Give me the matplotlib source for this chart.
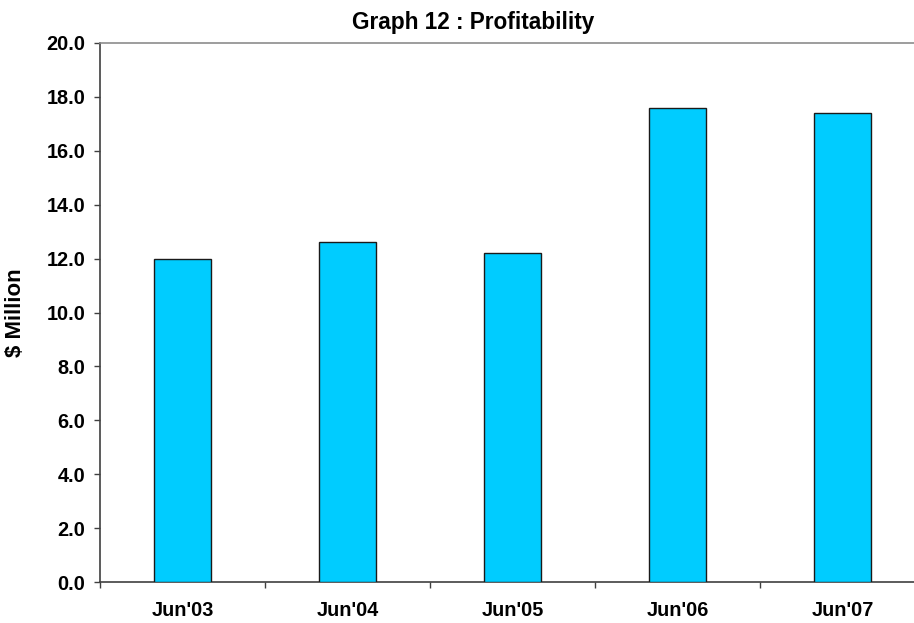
import matplotlib
matplotlib.use("Agg")
import matplotlib.pyplot as plt
import numpy as np

# Profit by financial year ($ million)
categories = ["Jun'03", "Jun'04", "Jun'05", "Jun'06", "Jun'07"]
profit = [12.0, 12.6, 12.2, 17.6, 17.4]
yticks = [0.0, 2.0, 4.0, 6.0, 8.0, 10.0, 12.0, 14.0, 16.0, 18.0, 20.0]

plt.rcParams["font.family"] = ["Liberation Sans", "DejaVu Sans"]
plt.rcParams["font.weight"] = "bold"

W, H = 914, 623
fig = plt.figure(figsize=(W / 100, H / 100), dpi=100)
# plot area: x 100..925 px (category axis runs past the right edge), y 43..582 px
ax = fig.add_axes([100 / W, 1 - 582 / H, 825 / W, (582 - 43) / H])

x = np.arange(len(categories)) + 0.5
ax.bar(x, profit, width=0.345, color="#00CCFF", edgecolor="#1a1a1a", linewidth=1.0, zorder=3)

ax.set_xlim(0, len(categories))
ax.set_ylim(0, 20)

ax.set_yticks(yticks)
ax.set_yticklabels([f"{v:.1f}" for v in yticks], fontsize=14.3, fontweight="bold")
ax.set_xticks(np.arange(len(categories) + 1))
ax.set_xticklabels([])
ax.set_xticks(x, minor=True)
ax.set_xticklabels(categories, minor=True, fontsize=14.3, fontweight="bold")
ax.tick_params(axis="x", which="major", length=4.3, width=1, color="#404040", direction="out")
ax.tick_params(axis="x", which="minor", length=0, pad=14)
ax.tick_params(axis="y", length=4, width=1, color="#404040", direction="out", pad=6.5)

for side in ("left", "bottom"):
    ax.spines[side].set_color("#404040")
    ax.spines[side].set_linewidth(1.2)
ax.spines["right"].set_visible(False)
ax.spines["top"].set_color("#8c8c8c")
ax.spines["top"].set_linewidth(1.2)

ax.set_ylabel("$ Million", fontsize=16, fontweight="bold")
ax.yaxis.set_label_coords(-74 / 825, 0.5)
fig.text(473 / W, 1 - 22 / H, "Graph 12 : Profitability", ha="center", va="center",
         fontsize=16.3, fontweight="bold")

fig.savefig("out.png", dpi=100)
